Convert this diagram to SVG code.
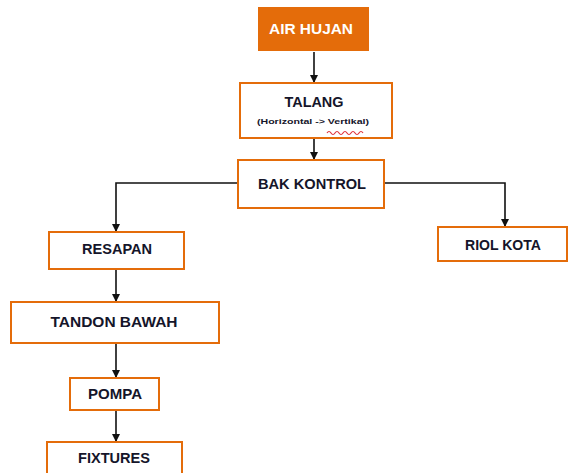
<svg xmlns="http://www.w3.org/2000/svg" width="570" height="473" viewBox="0 0 570 473">
<style>
.box{fill:#fff;stroke:#E46C0A;stroke-width:2}
.lbl{font-family:"Liberation Sans",Arial,sans-serif;font-weight:bold;font-size:15px;fill:#15152a;text-anchor:middle}
.conn{fill:none;stroke:#111;stroke-width:1.6}
</style>
<defs>
<marker id="arr" viewBox="0 0 10 10" refX="10" refY="5" markerWidth="8" markerHeight="8" orient="auto" markerUnits="userSpaceOnUse">
<path d="M0,0 L10,5 L0,10 z" fill="#111"/>
</marker>
</defs>
<rect width="570" height="473" fill="#fff"/>
<g id="connectors">
<path class="conn" d="M314,52 V83" marker-end="url(#arr)"/>
<path class="conn" d="M314,138 V160" marker-end="url(#arr)"/>
<path class="conn" d="M238,183 H116 V232" marker-end="url(#arr)"/>
<path class="conn" d="M384,183 H505 V227" marker-end="url(#arr)"/>
<path class="conn" d="M116,269 V302" marker-end="url(#arr)"/>
<path class="conn" d="M116,343 V378" marker-end="url(#arr)"/>
<path class="conn" d="M116,410 V442" marker-end="url(#arr)"/>
</g>
<g id="air-hujan">
<rect x="258" y="7" width="111" height="44" fill="#E46C0A"/>
<text class="lbl" x="311" y="34" fill="#fff" style="fill:#fff" textLength="84" lengthAdjust="spacingAndGlyphs">AIR HUJAN</text>
</g>
<g id="talang">
<rect class="box" x="240" y="83" width="152" height="55"/>
<text class="lbl" x="314" y="107" textLength="59" lengthAdjust="spacingAndGlyphs">TALANG</text>
<text class="lbl" x="313" y="124" style="font-size:7px" textLength="112" lengthAdjust="spacingAndGlyphs">(Horizontal -&gt; Vertikal)</text>
<path d="M327,133 q2,-3 4,0 t4,0 t4,0 t4,0 t4,0 t4,0 t4,0 t4,0 t4,0" fill="none" stroke="#e0303a" stroke-width="1.2"/>
</g>
<g id="bak-kontrol">
<rect class="box" x="238" y="160" width="146" height="48"/>
<text class="lbl" x="312" y="189" textLength="108" lengthAdjust="spacingAndGlyphs">BAK KONTROL</text>
</g>
<g id="resapan">
<rect class="box" x="49" y="232" width="135" height="37"/>
<text class="lbl" x="117" y="254" textLength="70" lengthAdjust="spacingAndGlyphs">RESAPAN</text>
</g>
<g id="riol-kota">
<rect class="box" x="438" y="227" width="129" height="34"/>
<text class="lbl" x="503" y="250" textLength="76" lengthAdjust="spacingAndGlyphs">RIOL KOTA</text>
</g>
<g id="tandon-bawah">
<rect class="box" x="11" y="302" width="208" height="41"/>
<text class="lbl" x="114" y="327" textLength="127" lengthAdjust="spacingAndGlyphs">TANDON BAWAH</text>
</g>
<g id="pompa">
<rect class="box" x="70" y="378" width="89" height="32"/>
<text class="lbl" x="115" y="399" textLength="54" lengthAdjust="spacingAndGlyphs">POMPA</text>
</g>
<g id="fixtures">
<rect class="box" x="47" y="442" width="135" height="36"/>
<text class="lbl" x="114" y="463" textLength="72" lengthAdjust="spacingAndGlyphs">FIXTURES</text>
</g>
</svg>
